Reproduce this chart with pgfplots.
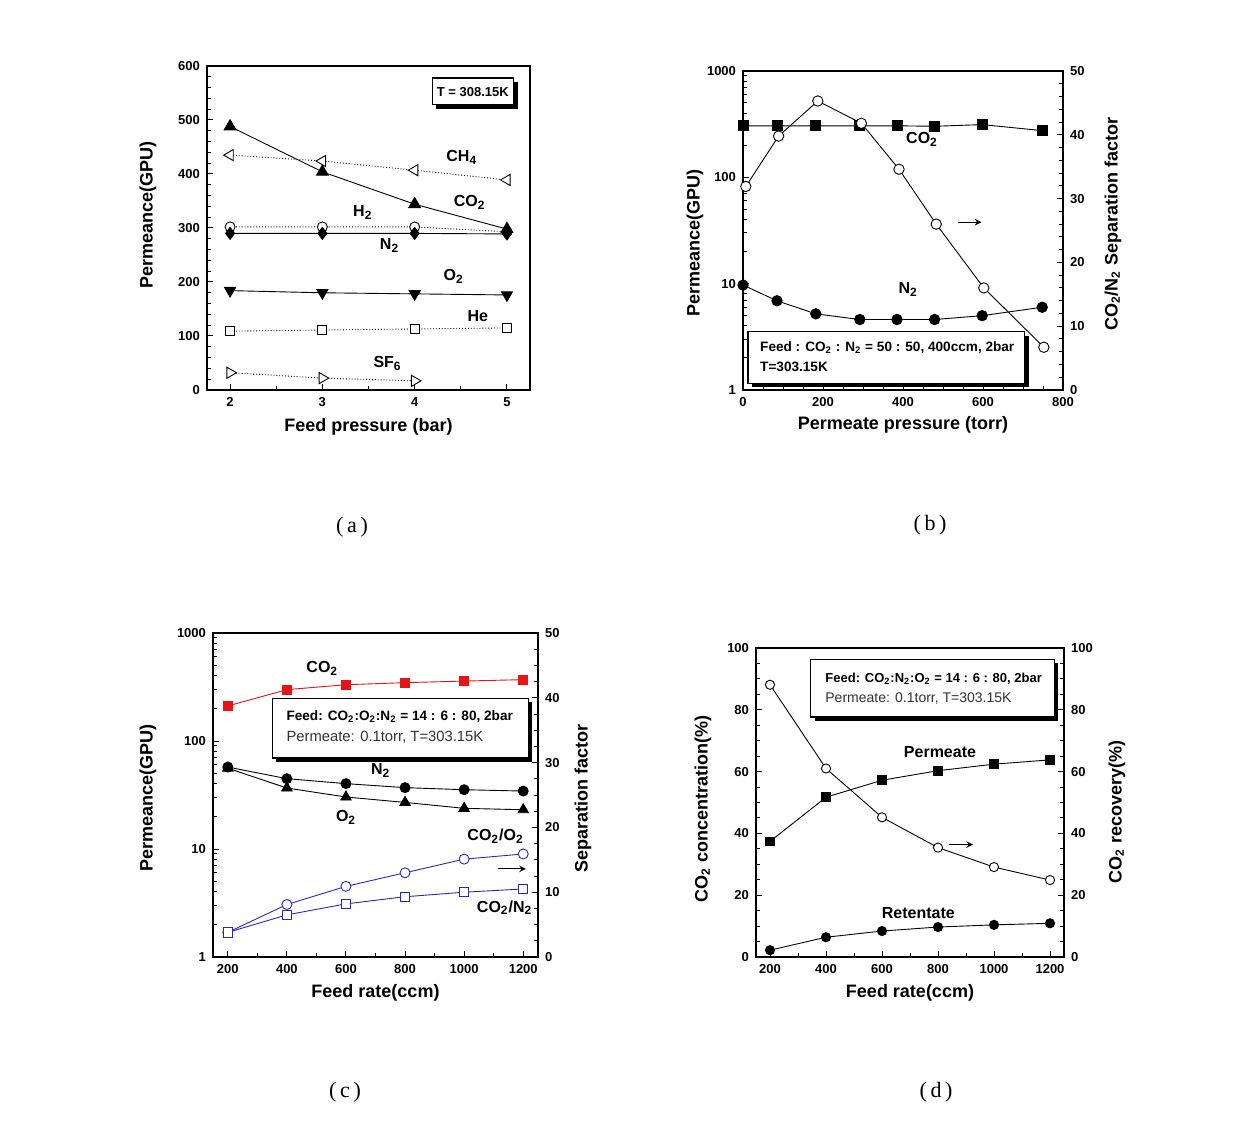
\documentclass[border=0pt]{standalone}
\usepackage{fontspec}
\setmainfont{Liberation Sans}
\newfontfamily\panelfont{Liberation Serif}
\usepackage{pgfplots}
\pgfplotsset{compat=1.18}
\definecolor{myred}{RGB}{230,20,20}
\definecolor{myblue}{RGB}{40,40,190}
\pgfplotsset{
  base/.style={
    scale only axis, anchor=south west,
    tick align=inside,
    xtick pos=bottom, ytick pos=left,
    /pgf/number format/assume math mode=true,
    /pgf/number format/1000 sep={},
    ticklabel style={font=\fontsize{6.5}{7}\selectfont\bfseries},
    label style={font=\fontsize{9}{10}\selectfont\bfseries},
    axis line style={line width=0.7pt},
    major tick length=3pt, minor tick length=1.8pt,
    every tick/.style={black, line width=0.5pt},
    clip=false,
  },
  xlab/.style={xlabel style={at={([yshift=-#1]axis description cs:0.5,0)}, anchor=center}},
  ylab/.style 2 args={ylabel style={at={([xshift=-#1]axis description cs:0,#2)}, anchor=center}},
  rylab/.style 2 args={ylabel style={at={([xshift=#1]axis description cs:1,#2)}, anchor=center}},
  ln/.style={black, line width=0.45pt},
}
\tikzset{lb/.style={anchor=west, inner sep=0pt, font=\fontsize{8}{9}\selectfont\bfseries}}
\newcommand{\boxt}[1]{\fontsize{#1}{#1}\selectfont}
\begin{document}
\begin{tikzpicture}
\useasboundingbox (0,0) rectangle (620pt,564.5pt);

% ---------------- (a) ----------------
\begin{axis}[base, at={(103.5pt,369.5pt)}, width=161.5pt, height=162pt,
  xmin=1.75, xmax=5.25, ymin=0, ymax=600,
  xtick={2,3,4,5}, minor x tick num=1,
  ytick={0,100,200,300,400,500,600}, minor y tick num=4,
  xlabel={Feed pressure (bar)}, ylabel={Permeance(GPU)},
  xlab=18.5pt, ylab={29.5pt}{0.54}]
\addplot[ln, densely dotted, mark=triangle*, mark size=3.2pt, mark options={solid, fill=white, rotate=90}] coordinates {(2,435)(3,424)(4,407)(5,389)};
\addplot[ln, densely dotted, mark=*, mark size=2.5pt, mark options={solid, fill=white}] coordinates {(2,302)(3,302)(4,302)(5,293)};
\addplot[ln, mark=triangle*, mark size=3.4pt, mark options={fill=black}] coordinates {(2,488)(3,404)(4,344)(5,298)};
\addplot[ln, mark=diamond*, mark size=3pt, mark options={fill=black}] coordinates {(2,290)(3,290)(4,290)(5,289)};
\addplot[ln, mark=triangle*, mark size=3.2pt, mark options={fill=black, rotate=180}] coordinates {(2,184)(3,180)(4,178)(5,176)};
\addplot[ln, densely dotted, mark=square*, mark size=2.25pt, mark options={solid, fill=white}] coordinates {(2,109)(3,111)(4,113)(5,115)};
\addplot[ln, densely dotted, mark=triangle*, mark size=3.2pt, mark options={solid, fill=white, rotate=-90}] coordinates {(2,32)(3,22)(4,17)};
\node[lb] at (axis cs:4.34,431) {CH\textsubscript{4}};
\node[lb] at (axis cs:4.42,347) {CO\textsubscript{2}};
\node[lb] at (axis cs:3.33,328) {H\textsubscript{2}};
\node[lb] at (axis cs:3.62,268) {N\textsubscript{2}};
\node[lb] at (axis cs:4.31,210) {O\textsubscript{2}};
\node[lb] at (axis cs:4.57,136) {He};
\node[lb] at (axis cs:3.55,49) {SF\textsubscript{6}};
\fill[black] ([xshift=2pt,yshift=-2pt]rel axis cs:0.697,0.88) rectangle ([xshift=2pt,yshift=-2pt]rel axis cs:0.95,0.963);
\draw[fill=white, line width=0.6pt] (rel axis cs:0.697,0.88) rectangle (rel axis cs:0.95,0.963);
\node[font=\boxt{6.5}\bfseries] at (rel axis cs:0.823,0.921) {T = 308.15K};
\end{axis}

% ---------------- (b) ----------------
\begin{axis}[base, at={(371.5pt,369.5pt)}, width=160pt, height=159.5pt,
  xmin=0, xmax=800, ymode=log, ymin=1, ymax=1000,
  xtick={0,200,400,600,800}, minor x tick num=3,
  ytick={1,10,100,1000}, yticklabels={1,10,100,1000},
  xlabel={Permeate pressure (torr)}, ylabel={Permeance(GPU)},
  xlab=17.5pt, ylab={24pt}{0.46}]
\addplot[ln, mark=square*, mark size=2.5pt, mark options={fill=black}] coordinates {(0,305)(85,305)(182,305)(292,305)(385,305)(479,302)(598,313)(748,275)};
\addplot[ln, mark=*, mark size=2.6pt, mark options={fill=black}] coordinates {(0,9.7)(85,6.9)(182,5.2)(292,4.6)(385,4.6)(479,4.6)(598,5.0)(748,6.0)};
\node[lb] at (axis cs:407,228) {CO\textsubscript{2}};
\node[lb] at (axis cs:388,8.85) {N\textsubscript{2}};
\end{axis}
\begin{axis}[base, at={(371.5pt,369.5pt)}, width=160pt, height=159.5pt,
  xmin=0, xmax=800, ymin=0, ymax=50,
  axis x line=none, axis y line*=right, ytick pos=right,
  ytick={0,10,20,30,40,50}, minor y tick num=4,
  ylabel={CO\textsubscript{2}/N\textsubscript{2} Separation factor}, rylab={25pt}{0.52}]
\addplot[ln, mark=*, mark size=2.6pt, mark options={fill=white}] coordinates {(7,31.9)(89,39.8)(187,45.3)(296,41.8)(390,34.6)(483,26.0)(602,16.0)(752,6.7)};
\draw[-stealth, line width=0.5pt] (axis cs:537,26.3) -- (axis cs:596,26.3);
\fill[black] ([xshift=2pt,yshift=-2pt]rel axis cs:0.0156,0.021) rectangle ([xshift=2pt,yshift=-2pt]rel axis cs:0.88,0.183);
\draw[fill=white, line width=0.6pt] (rel axis cs:0.0156,0.021) rectangle (rel axis cs:0.88,0.183);
\node[anchor=west, inner sep=0pt, font=\boxt{6.8}\bfseries] at (rel axis cs:0.0525,0.133) {Feed : CO\textsubscript{2} : N\textsubscript{2} = 50 : 50, 400ccm, 2bar};
\node[anchor=west, inner sep=0pt, font=\boxt{6.8}\bfseries] at (rel axis cs:0.0525,0.073) {T=303.15K};
\end{axis}

% ---------------- (c) ----------------
\begin{axis}[base, at={(106.5pt,86pt)}, width=162.5pt, height=162pt,
  xmin=150, xmax=1250, ymode=log, ymin=1, ymax=1000,
  xtick={200,400,600,800,1000,1200}, minor x tick num=1,
  ytick={1,10,100,1000}, yticklabels={1,10,100,1000},
  xlabel={Feed rate(ccm)}, ylabel={Permeance(GPU)},
  xlab=18pt, ylab={32.5pt}{0.49}]
\addplot[myred, line width=0.45pt, mark=square*, mark size=2.3pt, mark options={fill=myred}] coordinates {(200,211)(400,299)(600,332)(800,347)(1000,359)(1200,370)};
\addplot[ln, mark=*, mark size=2.5pt, mark options={fill=black}] coordinates {(200,57.4)(400,44.8)(600,40.3)(800,37)(1000,35.4)(1200,34.4)};
\addplot[ln, mark=triangle*, mark size=3pt, mark options={fill=black}] coordinates {(200,56)(400,36.7)(600,30.3)(800,27)(1000,23.8)(1200,23.1)};
\node[lb] at (axis cs:465,468) {CO\textsubscript{2}};
\node[lb] at (axis cs:684,53.5) {N\textsubscript{2}};
\node[lb] at (axis cs:565,19.5) {O\textsubscript{2}};
\end{axis}
\begin{axis}[base, at={(106.5pt,86pt)}, width=162.5pt, height=162pt,
  xmin=150, xmax=1250, ymin=0, ymax=50,
  axis x line=none, axis y line*=right, ytick pos=right,
  ytick={0,10,20,30,40,50}, minor y tick num=3,
  ylabel={Separation factor}, rylab={22.5pt}{0.49}]
\addplot[myblue, line width=0.45pt, mark=*, mark size=2.5pt, mark options={fill=white}] coordinates {(200,3.8)(400,8.1)(600,10.9)(800,13.0)(1000,15.1)(1200,15.9)};
\addplot[myblue, line width=0.45pt, mark=square*, mark size=2.3pt, mark options={fill=white}] coordinates {(200,3.8)(400,6.5)(600,8.2)(800,9.3)(1000,10.0)(1200,10.5)};
\node[lb] at (axis cs:1010,18.6) {CO\textsubscript{2}/O\textsubscript{2}};
\node[lb] at (axis cs:1042,7.6) {CO\textsubscript{2}/N\textsubscript{2}};
\draw[-stealth, line width=0.5pt] (axis cs:1115,13.6) -- (axis cs:1209,13.6);
\fill[black] ([xshift=2pt,yshift=-2pt]rel axis cs:0.182,0.614) rectangle ([xshift=2pt,yshift=-2pt]rel axis cs:0.97,0.799);
\draw[fill=white, line width=0.6pt] (rel axis cs:0.182,0.614) rectangle (rel axis cs:0.97,0.799);
\node[anchor=west, inner sep=0pt, font=\boxt{6.8}\bfseries] at (rel axis cs:0.225,0.741) {Feed: CO\textsubscript{2}:O\textsubscript{2}:N\textsubscript{2} = 14 : 6 : 80, 2bar};
\node[anchor=west, inner sep=0pt, font=\boxt{7.4}, text=black!80] at (rel axis cs:0.225,0.679) {Permeate: 0.1torr, T=303.15K};
\end{axis}

% ---------------- (d) ----------------
\begin{axis}[base, at={(378pt,86pt)}, width=154pt, height=154.5pt,
  xmin=150, xmax=1250, ymin=0, ymax=100,
  xtick={200,400,600,800,1000,1200}, minor x tick num=1,
  ytick={0,20,40,60,80,100}, minor y tick num=3,
  xlabel={Feed rate(ccm)}, ylabel={CO\textsubscript{2} concentration(\%)},
  xlab=18pt, ylab={26.5pt}{0.48}]
\addplot[ln, mark=square*, mark size=2.2pt, mark options={fill=black}] coordinates {(200,37.4)(400,51.7)(600,57.2)(800,60.3)(1000,62.4)(1200,63.8)};
\addplot[ln, mark=*, mark size=2.3pt, mark options={fill=black}] coordinates {(200,2.2)(400,6.4)(600,8.4)(800,9.7)(1000,10.4)(1200,10.9)};
\node[lb] at (axis cs:677,66.3) {Permeate};
\node[lb] at (axis cs:598,14.2) {Retentate};
\end{axis}
\begin{axis}[base, at={(378pt,86pt)}, width=154pt, height=154.5pt,
  xmin=150, xmax=1250, ymin=0, ymax=100,
  axis x line=none, axis y line*=right, ytick pos=right,
  ytick={0,20,40,60,80,100}, minor y tick num=3,
  ylabel={CO\textsubscript{2} recovery(\%)}, rylab={26.5pt}{0.47}]
\addplot[ln, mark=*, mark size=2.3pt, mark options={fill=white}] coordinates {(200,88.1)(400,61)(600,45.2)(800,35.4)(1000,29.1)(1200,24.9)};
\draw[-stealth, line width=0.5pt] (axis cs:840,36.4) -- (axis cs:925,36.4);
\fill[black] ([xshift=2pt,yshift=-2pt]rel axis cs:0.178,0.777) rectangle ([xshift=2pt,yshift=-2pt]rel axis cs:0.968,0.964);
\draw[fill=white, line width=0.6pt] (rel axis cs:0.178,0.777) rectangle (rel axis cs:0.968,0.964);
\node[anchor=west, inner sep=0pt, font=\boxt{6.5}\bfseries] at (rel axis cs:0.224,0.90) {Feed: CO\textsubscript{2}:N\textsubscript{2}:O\textsubscript{2} = 14 : 6 : 80, 2bar};
\node[anchor=west, inner sep=0pt, font=\boxt{7}, text=black!80] at (rel axis cs:0.224,0.838) {Permeate: 0.1torr, T=303.15K};
\end{axis}

% panel labels
\node[font=\panelfont\fontsize{11}{12}\selectfont] at (176pt,301pt) {(\,a\,)};
\node[font=\panelfont\fontsize{11}{12}\selectfont] at (465pt,302pt) {(\,b\,)};
\node[font=\panelfont\fontsize{11}{12}\selectfont] at (172.5pt,18.5pt) {(\,c\,)};
\node[font=\panelfont\fontsize{11}{12}\selectfont] at (468pt,18.5pt) {(\,d\,)};
\end{tikzpicture}
\end{document}
